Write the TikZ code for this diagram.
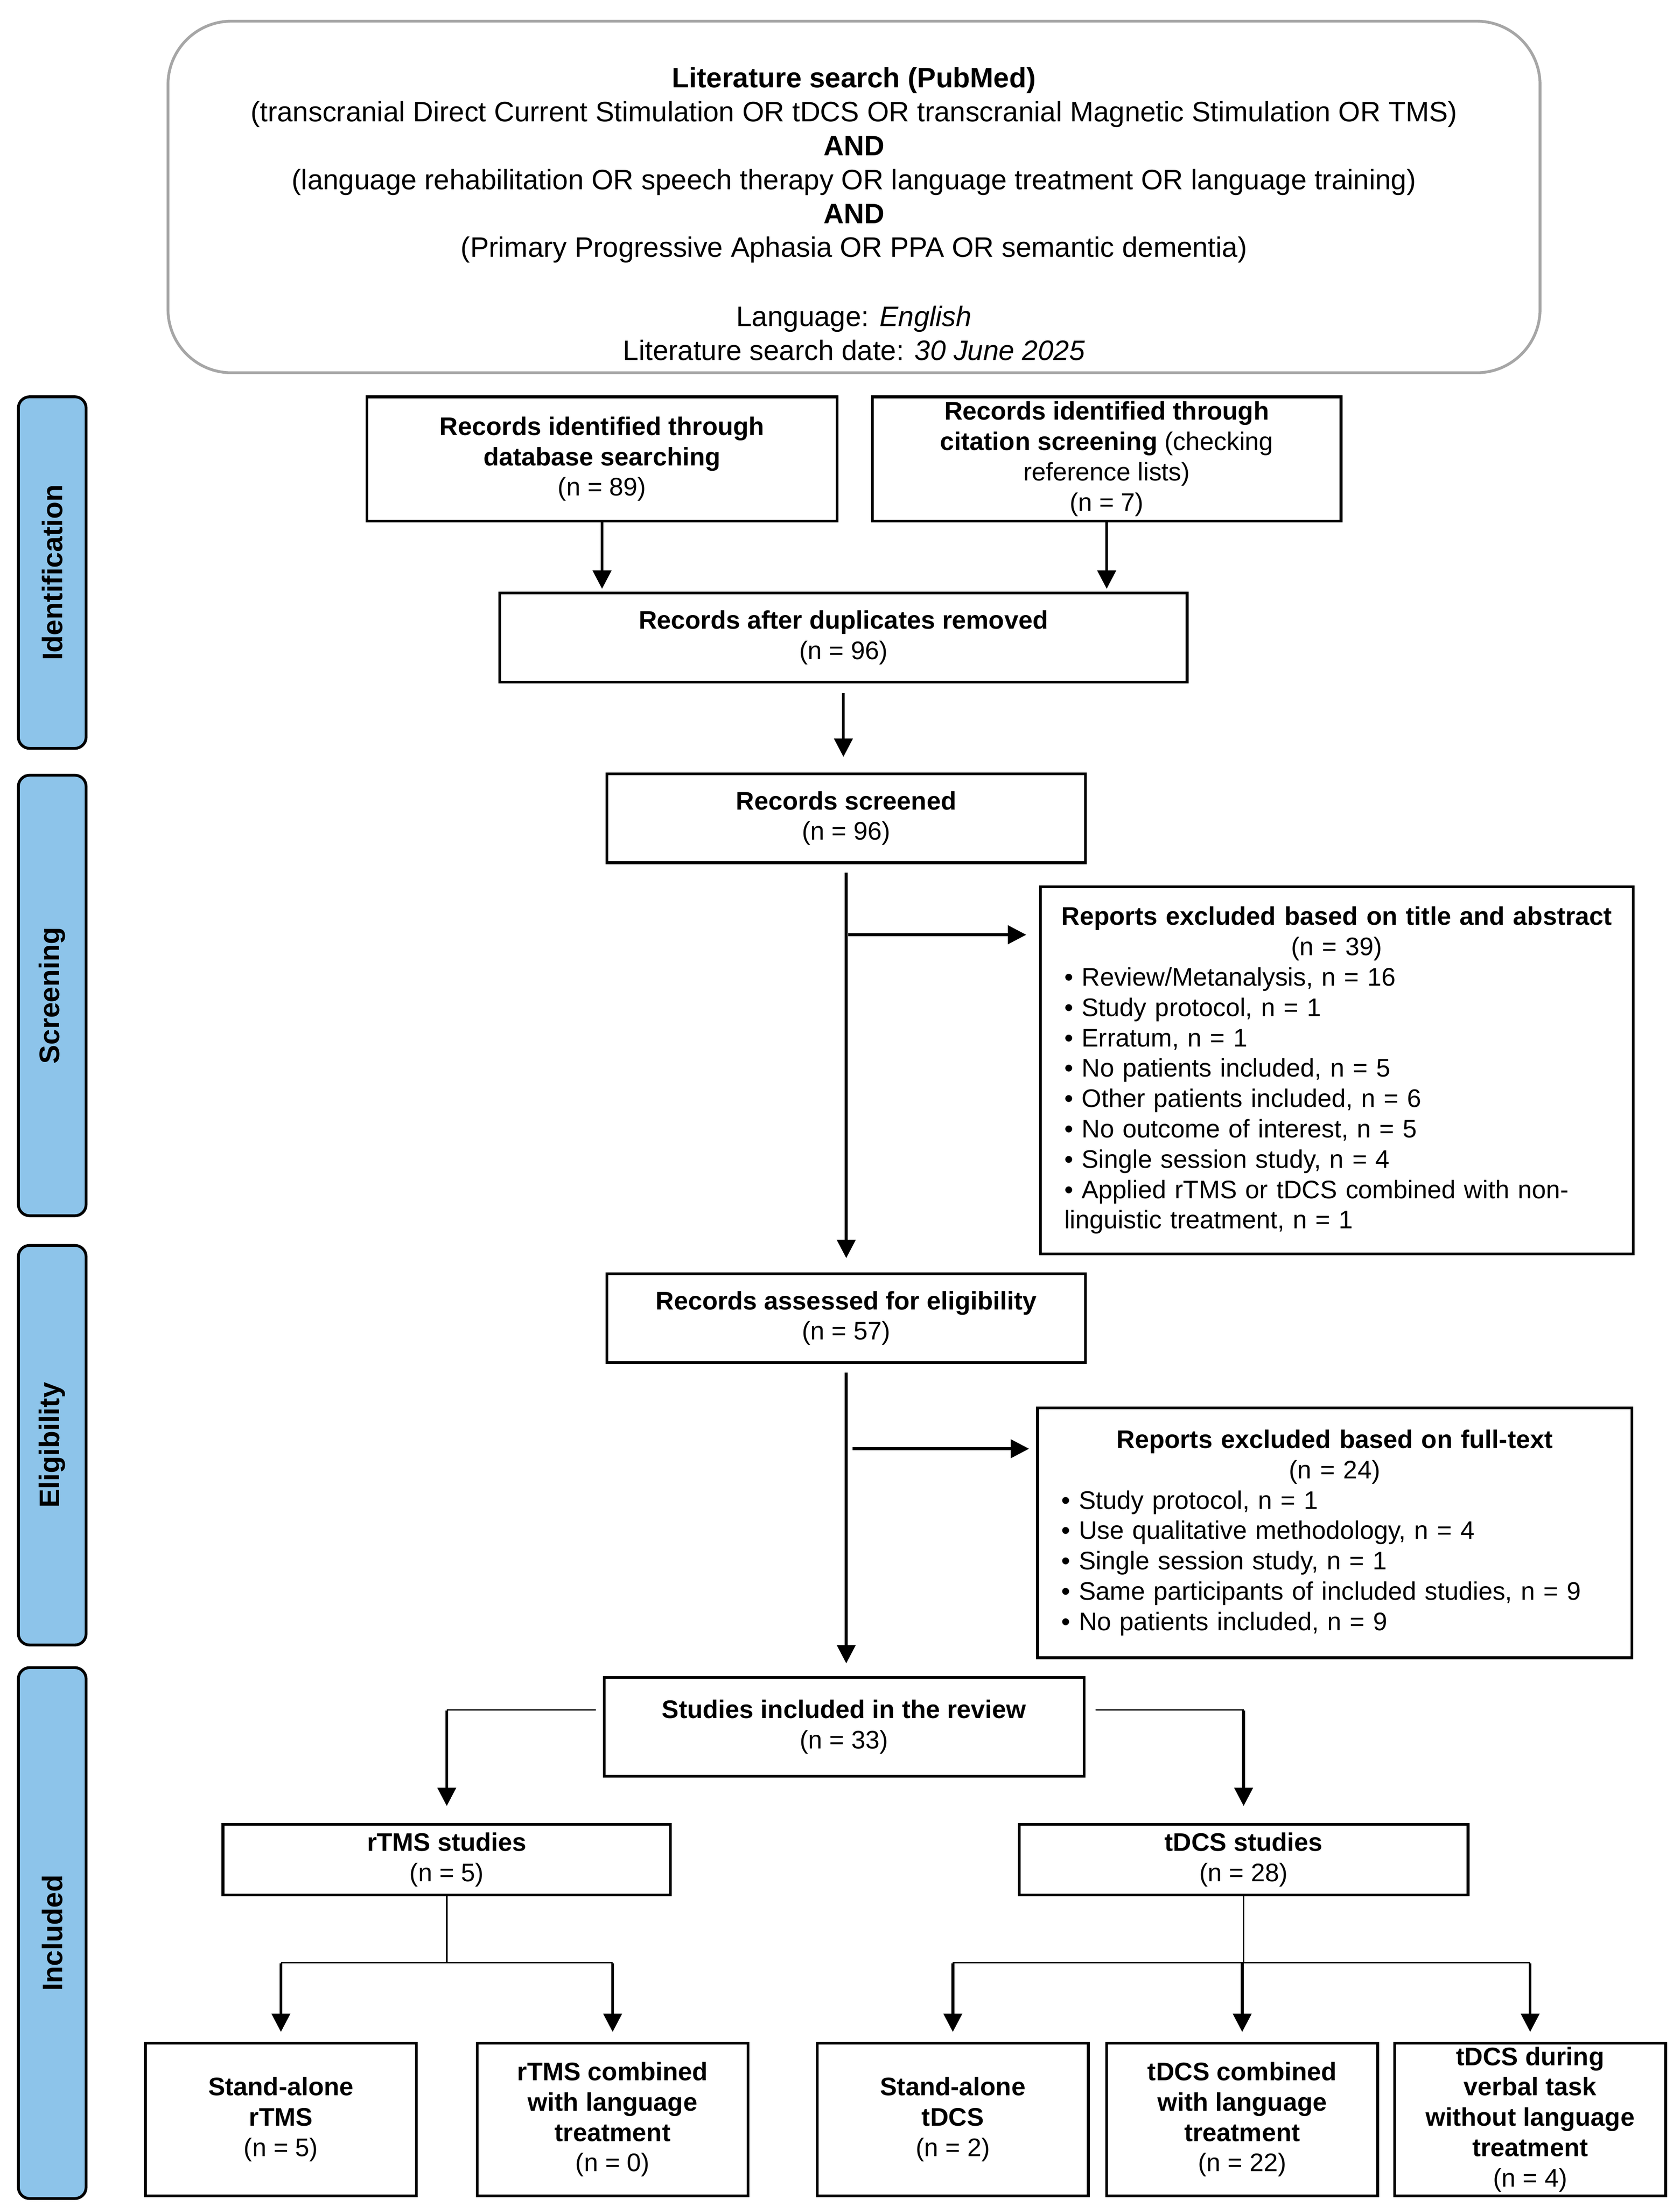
\documentclass[tikz,border=0pt]{standalone}
\usepackage{fontspec}
\setmainfont{Liberation Sans}
\usetikzlibrary{arrows.meta,calc}
\definecolor{laneblue}{RGB}{141,196,234}
\definecolor{framegray}{RGB}{166,166,166}
\begin{document}
\begin{tikzpicture}[x=1pt,y=-1pt,
  fs/.style={font=\fontsize{18}{21.5}\selectfont},
  box/.style={draw, line width=2pt, align=center, inner sep=0pt, fs},
  lane/.style={draw, line width=2pt, fill=laneblue, rounded corners=8pt, minimum width=48pt},
  lanetxt/.style={rotate=90, font=\fontsize{20}{24}\selectfont\bfseries},
  arr/.style={line width=2pt, -{Triangle[length=13pt,width=13pt]}},
  conn/.style={line width=1pt},
  sz/.style 2 args={minimum width=#1pt, minimum height=#2pt}
]
\useasboundingbox (0,0) rectangle (1190,1562.3);

% search box
\node[draw=framegray, line width=2pt, rounded corners=45pt, sz={972}{249}] (search) at (605,139.5) {};
\node[align=center, inner sep=0pt, font=\fontsize{19.9}{24}\selectfont] (searchtxt) at (605,151.5)
{\textbf{Literature search (PubMed)}\\
(transcranial Direct Current Stimulation OR tDCS OR transcranial Magnetic Stimulation OR TMS)\\
\textbf{AND}\\
(language rehabilitation OR speech therapy OR language treatment OR language training)\\
\textbf{AND}\\
(Primary Progressive Aphasia OR PPA OR semantic dementia)\\[25pt]
Language: \textit{English}\\
Literature search date: \textit{30 June 2025}};

% lanes
\node[lane, minimum height=249pt] (lid) at (37,405.5) {};
\node[lanetxt] (lidt) at (lid) {Identification};
\node[lane, minimum height=312pt] (lsc) at (37,705) {};
\node[lanetxt] (lsct) at (lsc) {Screening};
\node[lane, minimum height=283pt] (lel) at (37,1023.5) {};
\node[lanetxt] (lelt) at (lel) {Eligibility};
\node[lane, minimum height=376pt] (lin) at (37,1369) {};
\node[lanetxt] (lint) at (lin) {Included};

% boxes
\node[box, sz={333}{88}] (db) at (426.5,325) {\textbf{Records identified through}\\\textbf{database searching}\\(n = 89)};
\node[box, sz={332}{88}] (cit) at (784,325) {\textbf{Records identified through}\\\textbf{citation screening} (checking\\reference lists)\\(n = 7)};
\node[box, sz={487}{63}] (dup) at (597.5,451.5) {\textbf{Records after duplicates removed}\\(n = 96)};
\node[box, sz={339}{63}] (scr) at (599.5,579.5) {\textbf{Records screened}\\(n = 96)};
\node[box, sz={420}{260}, text width=386pt, align=left] (ex1) at (947,758)
{\parindent=0pt\hbox to\linewidth{\hss\textbf{Reports excluded based on title and abstract}\hss}
\hbox to\linewidth{\hss(n = 39)\hss}
• Review/Metanalysis, n = 16\\
• Study protocol, n = 1\\
• Erratum, n = 1\\
• No patients included, n = 5\\
• Other patients included, n = 6\\
• No outcome of interest, n = 5\\
• Single session study, n = 4\\
• Applied rTMS or tDCS combined with non-\\
linguistic treatment, n = 1};
\node[box, sz={339}{63}] (elg) at (599.5,933.5) {\textbf{Records assessed for eligibility}\\(n = 57)};
\node[box, sz={421}{177}, text width=387pt, align=left] (ex2) at (945.5,1085.5)
{\parindent=0pt\hbox to\linewidth{\hss\textbf{Reports excluded based on full-text}\hss}
\hbox to\linewidth{\hss(n = 24)\hss}
• Study protocol, n = 1\\
• Use qualitative methodology, n = 4\\
• Single session study, n = 1\\
• Same participants of included studies, n = 9\\
• No patients included, n = 9};
\node[box, sz={340}{70}] (inc) at (598,1223) {\textbf{Studies included in the review}\\(n = 33)};
\node[box, sz={317}{50}] (rt) at (316.5,1317) {\textbf{rTMS studies}\\(n = 5)};
\node[box, sz={318}{50}] (td) at (881,1317) {\textbf{tDCS studies}\\(n = 28)};
\node[box, sz={192}{108}] (sar) at (199,1501) {\textbf{Stand-alone}\\\textbf{rTMS}\\(n = 5)};
\node[box, sz={192}{108}] (cor) at (434,1501) {\textbf{rTMS combined}\\\textbf{with language}\\\textbf{treatment}\\(n = 0)};
\node[box, sz={192}{108}] (sat) at (675,1501) {\textbf{Stand-alone}\\\textbf{tDCS}\\(n = 2)};
\node[box, sz={192}{108}] (cot) at (880,1501) {\textbf{tDCS combined}\\\textbf{with language}\\\textbf{treatment}\\(n = 22)};
\node[box, sz={192}{108}] (dut) at (1084,1501) {\textbf{tDCS during}\\\textbf{verbal task}\\\textbf{without language}\\\textbf{treatment}\\(n = 4)};

% connectors
\draw[arr, shorten >=2pt] (db.south) -- (db.south |- dup.north);
\draw[arr, shorten >=2pt] (cit.south) -- (cit.south |- dup.north);
\draw[arr, shorten <=7pt, shorten >=11pt] (dup.south) -- (dup.south |- scr.north);
\draw[arr, shorten <=6pt, shorten >=10pt] (scr.south) -- (scr.south |- elg.north);
\coordinate (b1) at (601,662);
\draw[arr, shorten >=9pt] (b1) -- (b1 -| ex1.west);
\draw[arr, shorten <=6pt, shorten >=9pt] (elg.south) -- (elg.south |- inc.north);
\coordinate (b2) at (604,1026);
\draw[arr, shorten >=5pt] (b2) -- (b2 -| ex2.west);

\coordinate (k1) at (316.5,1211);
\draw[conn, shorten <=5pt] (inc.west |- k1) -- (k1);
\draw[arr, shorten >=12pt] ([yshift=-0.5pt]k1) -- (rt.north);
\coordinate (k2) at (881,1211);
\draw[conn, shorten <=7pt] (inc.east |- k2) -- (k2);
\draw[arr, shorten >=12pt] ([yshift=-0.5pt]k2) -- (td.north);

\coordinate (r1) at (316.5,1390);
\draw[conn] (rt.south) -- (r1);
\draw[conn] (r1 -| sar.north) -- (r1 -| cor.north);
\draw[arr, shorten >=7pt] ([yshift=-0.5pt]r1 -| sar.north) -- (sar.north);
\draw[arr, shorten >=7pt] ([yshift=-0.5pt]r1 -| cor.north) -- (cor.north);

\coordinate (t1) at (881,1390);
\draw[conn] (td.south) -- (t1);
\draw[conn] (t1 -| sat.north) -- (t1 -| dut.north);
\draw[arr, shorten >=7pt] ([yshift=-0.5pt]t1 -| sat.north) -- (sat.north);
\draw[arr, shorten >=7pt] ([yshift=-0.5pt]t1 -| cot.north) -- (cot.north);
\draw[arr, shorten >=7pt] ([yshift=-0.5pt]t1 -| dut.north) -- (dut.north);
\end{tikzpicture}
\end{document}
